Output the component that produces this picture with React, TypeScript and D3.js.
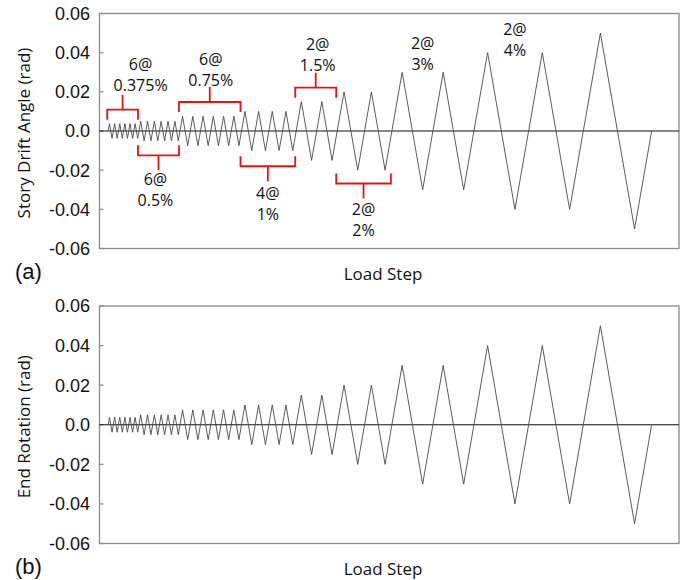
import React from 'react';
import * as d3 from 'd3';

// loading protocol: number of cycles at each drift amplitude (rad)
const cycleCounts = [6, 6, 6, 4, 2, 2, 2, 2, 1];
const amplitudes = [0.00375, 0.005, 0.0075, 0.01, 0.015, 0.02, 0.03, 0.04, 0.05];
const cycleLabels = ['6@', '6@', '6@', '4@', '2@', '2@', '2@', '2@', ''];
const ampLabels = ['0.375%', '0.5%', '0.75%', '1%', '1.5%', '2%', '3%', '4%', ''];

const yTicks = [0.06, 0.04, 0.02, 0, -0.02, -0.04, -0.06];
const yTickLabels = ['0.06', '0.04', '0.02', '0.0', '-0.02', '-0.04', '-0.06'];

// build the triangular history: x = cumulative drift travelled (load step)
type Pt = { x: number; y: number };
const points: Pt[] = [{ x: 0, y: 0 }];
const groups: { start: number; end: number; amp: number }[] = [];
let travel = 0;
cycleCounts.forEach((n, i) => {
  const a = amplitudes[i] * 100;
  const start = travel;
  for (let c = 0; c < n; c++) {
    points.push({ x: travel + a, y: amplitudes[i] });
    points.push({ x: travel + 3 * a, y: -amplitudes[i] });
    points.push({ x: travel + 4 * a, y: 0 });
    travel += 4 * a;
  }
  groups.push({ start, end: travel, amp: a });
});

// annotation layout (panel a): bracket side, bar level and first text baseline in rad
const notes = [
  { g: 0, side: 'up', bar: 0.0109, text: 0.0311, dx: 18 },
  { g: 1, side: 'down', bar: -0.0124, text: -0.0274, dx: -3 },
  { g: 2, side: 'up', bar: 0.0148, text: 0.0335, dx: 1 },
  { g: 3, side: 'down', bar: -0.018, text: -0.0345, dx: 0 },
  { g: 4, side: 'up', bar: 0.0221, text: 0.0415, dx: 2 },
  { g: 5, side: 'down', bar: -0.0268, text: -0.043, dx: 0 },
  { g: 6, side: 'none', bar: 0, text: 0.042, dx: 0 },
  { g: 7, side: 'none', bar: 0, text: 0.0488, dx: 0 },
];

const W = 686;
const H = 580;
const left = 99.5;
const right = 679;

const x = d3.scaleLinear().domain([-2.55, 167]).range([left, right]);

const tickFont = '"Liberation Sans", Arial, sans-serif';
const textFont = '"Open Sans", "Noto Sans", sans-serif';

function Panel({ top, bottom, title, letter, annotate }: { top: number; bottom: number; title: string; letter: string; annotate: boolean }) {
  const y = d3.scaleLinear().domain([-0.06, 0.06]).range([bottom, top]);
  const line = d3.line<Pt>().x(d => x(d.x)).y(d => y(d.y));
  const midY = (top + bottom) / 2;
  return (
    <g>
      <rect x={left} y={top} width={right - left} height={bottom - top} fill="none" stroke="#8a8a8a" strokeWidth={1.3} />
      {yTicks.map((t, i) => (
        <g key={i}>
          <line x1={left} x2={left + 4} y1={y(t)} y2={y(t)} stroke="#8a8a8a" strokeWidth={1.2} />
          <text x={90} y={y(t)} dy="0.36em" textAnchor="end" fontFamily={tickFont} fontSize={18} fill="#111">{yTickLabels[i]}</text>
        </g>
      ))}
      <line x1={left} x2={right} y1={y(0)} y2={y(0)} stroke="#111" strokeWidth={1.1} />
      <path d={line(points) || ''} fill="none" stroke="#4a4a4a" strokeWidth={0.9} />
      <text transform={`translate(30,${midY + 2}) rotate(-90)`} textAnchor="middle" fontFamily={textFont} fontSize={17} fill="#111">{title}</text>
      <text x={383} y={bottom + 31} textAnchor="middle" fontFamily={textFont} fontSize={17} fill="#111">Load Step</text>
      <text x={15} y={bottom + 30} fontFamily={tickFont} fontSize={22} fill="#111">{letter}</text>
      {annotate && notes.map((n, i) => {
        const gr = groups[n.g];
        const x0 = x(gr.start) - 1;
        const x1 = x(gr.end) - 1;
        const cx = n.side === 'none' ? x(gr.start + 3 * gr.amp) : (x0 + x1) / 2;
        const yb = y(n.bar);
        const s = n.side === 'up' ? 1 : -1;
        const ty = y(n.text);
        return (
          <g key={i}>
            {n.side !== 'none' && (
              <path
                d={`M${x0},${yb + 10 * s}V${yb}H${x1}V${yb + 10 * s}M${cx},${yb}V${yb - 15 * s}`}
                fill="none" stroke="#ee1111" strokeWidth={1.8} />
            )}
            <text x={cx + n.dx} y={ty} textAnchor="middle" fontFamily={textFont} fontSize={16} fill="#111">{cycleLabels[n.g]}</text>
            <text x={cx + n.dx} y={ty + 21} textAnchor="middle" fontFamily={textFont} fontSize={16} fill="#111">{ampLabels[n.g]}</text>
          </g>
        );
      })}
    </g>
  );
}

export default function App() {
  return (
    <svg width={W} height={H} style={{ position: 'absolute', left: 0, top: 0, background: '#fff' }}>
      <Panel top={13.5} bottom={248.5} title="Story Drift Angle (rad)" letter="(a)" annotate={true} />
      <Panel top={306} bottom={543.5} title="End Rotation (rad)" letter="(b)" annotate={false} />
    </svg>
  );
}
